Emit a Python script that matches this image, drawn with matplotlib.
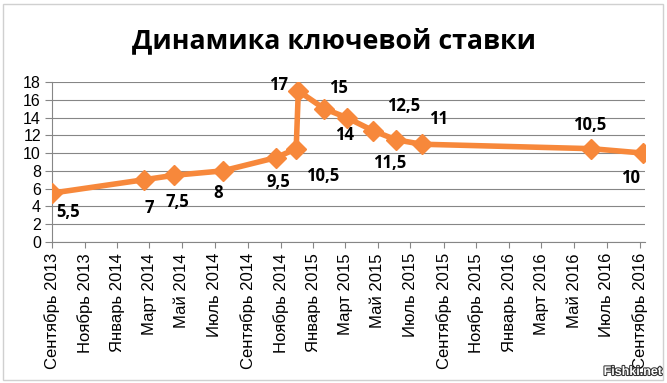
from datetime import datetime
import matplotlib
matplotlib.use('Agg')
import matplotlib.pyplot as plt
from matplotlib import patheffects
from matplotlib.patches import Rectangle

# key rate change dates and values
dates = [datetime(2013, 9, 13), datetime(2014, 3, 3), datetime(2014, 4, 28),
         datetime(2014, 7, 28), datetime(2014, 11, 5), datetime(2014, 12, 12),
         datetime(2014, 12, 16), datetime(2015, 2, 2), datetime(2015, 3, 16),
         datetime(2015, 5, 5), datetime(2015, 6, 16), datetime(2015, 8, 3),
         datetime(2016, 6, 14), datetime(2016, 9, 19)]
rates = [5.5, 7, 7.5, 8, 9.5, 10.5, 17, 15, 14, 12.5, 11.5, 11, 10.5, 10]
point_labels = ['5,5', '7', '7,5', '8', '9,5', '10,5', '17', '15', '14',
                '12,5', '11,5', '11', '10,5', '10']
# label offsets in pixels (dx, dy)
label_offsets = [(16, -19), (5, -28), (4, -27), (-4, -22), (2, -24), (26, -27),
                 (-20, 6), (14, 21), (-2, -17), (30, 25), (-6, -23), (17, 25),
                 (-2, 24), (-13, -25)]

tick_dates = [datetime(2013 + (8 + 2 * i) // 12, (8 + 2 * i) % 12 + 1, 13) for i in range(19)]
tick_labels = ['Сентябрь 2013', 'Ноябрь 2013', 'Январь 2014', 'Март 2014', 'Май 2014',
               'Июль 2014', 'Сентябрь 2014', 'Ноябрь 2014', 'Январь 2015', 'Март 2015',
               'Май 2015', 'Июль 2015', 'Сентябрь 2015', 'Ноябрь 2015', 'Январь 2016',
               'Март 2016', 'Май 2016', 'Июль 2016', 'Сентябрь 2016']

W, H = 667, 383
fig = plt.figure(figsize=(W / 100, H / 100), dpi=100)
ax = fig.add_axes([52 / W, 1 - 242 / H, (645 - 52) / W, 160 / H])

orange = '#F7883B'
grid_c = '#868686'
bold_font = ['Open Sans', 'DejaVu Sans']

ax.plot(dates, rates, color=orange, linewidth=4, marker='D', markersize=10,
        markerfacecolor=orange, markeredgecolor=orange, solid_joinstyle='round', zorder=3)

for d, r, lab, (dx, dy) in zip(dates, rates, point_labels, label_offsets):
    ax.annotate(lab, (d, r), xytext=(dx, dy), textcoords='offset pixels',
                ha='center', va='center', fontsize=12, fontweight='bold',
                family=bold_font, color='black')

ax.set_ylim(0, 18)
ax.set_yticks(range(0, 19, 2))
ax.set_xlim(datetime(2013, 9, 13), datetime(2016, 9, 22))
ax.set_xticks(tick_dates)
ax.set_xticklabels(tick_labels, rotation=90)

ax.grid(axis='y', color=grid_c, linewidth=0.8)
ax.set_axisbelow(True)
for s in ['top', 'right']:
    ax.spines[s].set_visible(False)
for s in ['left', 'bottom']:
    ax.spines[s].set_color(grid_c)
    ax.spines[s].set_linewidth(0.8)
ax.tick_params(axis='y', length=5, color=grid_c, labelsize=11.5, pad=3)
ax.tick_params(axis='x', length=4, color=grid_c, labelsize=12, pad=4)
for t in ax.get_xticklabels() + ax.get_yticklabels():
    t.set_family(['Liberation Sans', 'DejaVu Sans'])

fig.text(0.5, 1 - 41 / H, 'Динамика ключевой ставки', ha='center', va='center',
         fontsize=19.3, fontweight='bold', family=bold_font)

# chart border
fig.patches.append(Rectangle((3 / W, 3 / H), 660 / W, 376 / H, transform=fig.transFigure,
                             fill=False, edgecolor='#D0D0D0', linewidth=1))

wm = fig.text(662 / W, 1 - 372 / H, 'Fishki.net', ha='right', va='center', fontsize=9,
              fontweight='bold', color='white', family=['Liberation Sans', 'DejaVu Sans'])
wm.set_path_effects([patheffects.withStroke(linewidth=1.5, foreground='#333333')])

fig.savefig('out.png', dpi=100)
